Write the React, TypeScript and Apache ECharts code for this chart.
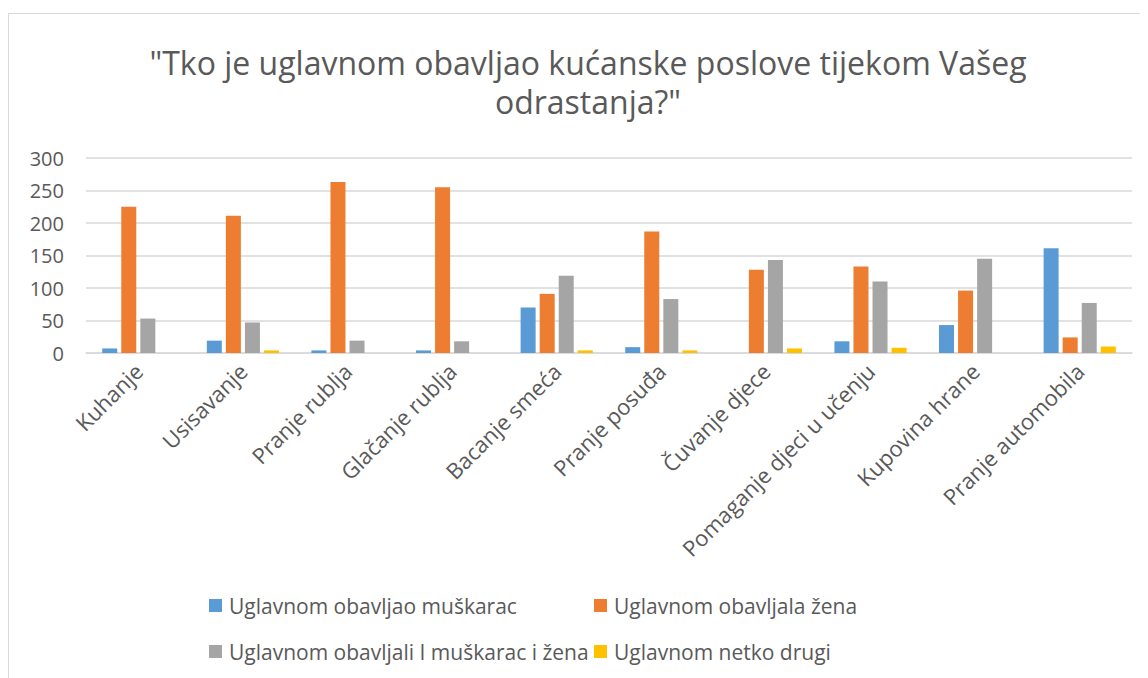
import React, { useEffect, useRef } from "react";
import * as echarts from "echarts";

const categories = [
  "Kuhanje",
  "Usisavanje",
  "Pranje rublja",
  "Glačanje rublja",
  "Bacanje smeća",
  "Pranje posuđa",
  "Čuvanje djece",
  "Pomaganje djeci u učenju",
  "Kupovina hrane",
  "Pranje automobila",
];

const seriesNames = [
  "Uglavnom obavljao muškarac",
  "Uglavnom obavljala žena",
  "Uglavnom obavljali I muškarac i žena",
  "Uglavnom netko drugi",
];

const muskarac = [7, 19, 4, 4, 70, 9, 0, 18, 43, 161];
const zena = [225, 211, 263, 255, 91, 187, 128, 133, 96, 24];
const oboje = [53, 47, 19, 18, 119, 83, 143, 110, 145, 77];
const netkoDrugi = [0, 4, 0, 0, 4, 4, 7, 8, 0, 10];

const yTicks = { min: 0, max: 300, interval: 50 };

const titleLines = [
  "\"Tko je uglavnom obavljao kućanske poslove tijekom Vašeg",
  "odrastanja?\"",
];

const colors = ["#5B9BD5", "#ED7D31", "#A5A5A5", "#FFC000"];

export default function App() {
  const ref = useRef<HTMLDivElement>(null);

  useEffect(() => {
    if (!ref.current) return;
    const chart = echarts.init(ref.current, undefined, { renderer: "svg" });
    const values = [muskarac, zena, oboje, netkoDrugi];
    const font = "'Open Sans', sans-serif";
    const legendText = { color: "#595959", fontSize: 21, fontFamily: font, padding: [0, 0, 0, 2] };
    chart.setOption({
      animation: false,
      color: colors,
      textStyle: { fontFamily: font },
      graphic: [
        {
          type: "text",
          x: 579,
          y: 48,
          style: {
            text: titleLines[0],
            fill: "#595959",
            fontFamily: font,
            fontSize: 32,
            align: "center",
            verticalAlign: "middle",
          },
        },
        {
          type: "text",
          x: 579,
          y: 87,
          style: {
            text: titleLines[1],
            fill: "#595959",
            fontFamily: font,
            fontSize: 32,
            align: "center",
            verticalAlign: "middle",
          },
        },
      ],
      legend: [
        {
          orient: "vertical",
          left: 195,
          top: 576,
          itemWidth: 13,
          itemHeight: 13,
          itemGap: 25,
          icon: "rect",
          data: [seriesNames[0], seriesNames[2]],
          textStyle: legendText,
        },
        {
          orient: "vertical",
          left: 580,
          top: 576,
          itemWidth: 13,
          itemHeight: 13,
          itemGap: 25,
          icon: "rect",
          data: [seriesNames[1], seriesNames[3]],
          textStyle: legendText,
        },
      ],
      grid: { left: 77, right: 16, top: 144, bottom: 325, containLabel: false },
      xAxis: {
        type: "category",
        data: categories,
        axisLine: { lineStyle: { color: "#d9d9d9", width: 1.5 } },
        axisTick: { show: false },
        axisLabel: {
          interval: 0,
          rotate: 45,
          margin: 14,
          color: "#595959",
          fontSize: 22,
          fontFamily: font,
        },
      },
      yAxis: {
        type: "value",
        min: yTicks.min,
        max: yTicks.max,
        interval: yTicks.interval,
        axisLine: { show: false },
        axisTick: { show: false },
        splitLine: { lineStyle: { color: "#d9d9d9", width: 1.5 } },
        axisLabel: { color: "#595959", fontSize: 20, fontFamily: font, margin: 22 },
      },
      series: seriesNames.map((name, i) => ({
        name,
        type: "bar",
        data: values[i],
        barCategoryGap: "31%",
        barGap: "27%",
        itemStyle: { color: colors[i] },
      })),
    });
    return () => chart.dispose();
  }, []);

  return (
    <div
      style={{
        marginTop: 5,
        width: 1140,
        height: 665,
        borderTop: "1px solid #d9d9d9",
        borderLeft: "1px solid #d9d9d9",
        boxSizing: "border-box",
        background: "#fff",
      }}
    >
      <div ref={ref} style={{ width: 1139, height: 664 }} />
    </div>
  );
}
